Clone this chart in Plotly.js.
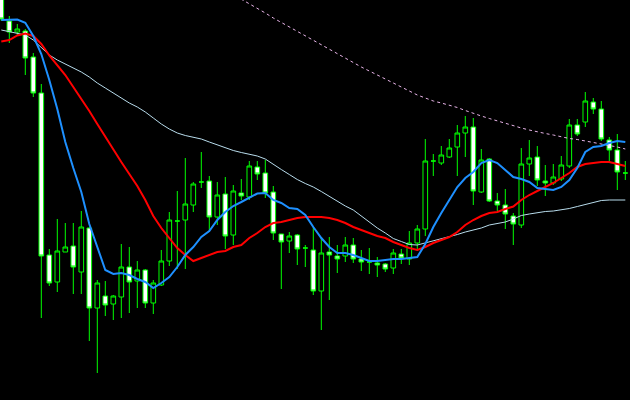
<!DOCTYPE html>
<html>
<head>
<meta charset="utf-8">
<script src="https://cdn.plot.ly/plotly-3.0.1.min.js"></script>
<style>html,body{margin:0;padding:0;background:#000;}#chart{width:630px;height:400px;}</style>
</head>
<body>
<div id="chart"></div>
<script>
// Bar index (time order)
var bars = [];
for (var i = 0; i < 79; i++) bars.push(i);

var openP = [1.3402,1.3379,1.3368,1.3369,1.3343,1.3307,1.3145,1.3118,1.3148,1.3154,
  1.3128,1.3172,1.3092,1.3104,1.3096,1.3103,1.3133,1.3119,1.3130,1.3097,
  1.3115,1.3139,1.3179,1.3180,1.3195,1.3218,1.3219,1.3183,1.3206,1.3165,
  1.3207,1.3203,1.3233,1.3227,1.3208,1.3166,1.3159,1.3165,1.3152,1.3150,
  1.3109,1.3148,1.3144,1.3144,1.3155,1.3141,1.3138,1.3137,1.3136,1.3132,
  1.3146,1.3141,1.3157,1.3171,1.3239,1.3237,1.3243,1.3253,1.3267,1.3273,
  1.3208,1.3241,1.3199,1.3195,1.3184,1.3175,1.3236,1.3243,1.3219,1.3217,
  1.3221,1.3234,1.3275,1.3278,1.3298,1.3291,1.3260,1.3250,1.3227];
var highP = [1.3406,1.3384,1.3376,1.3371,1.3347,1.3316,1.3151,1.3181,1.3177,1.3177,
  1.3189,1.3173,1.3120,1.3119,1.3105,1.3156,1.3153,1.3139,1.3131,1.3120,
  1.3150,1.3188,1.3209,1.3242,1.3218,1.3248,1.3224,1.3218,1.3223,1.3215,
  1.3221,1.3239,1.3239,1.3240,1.3214,1.3166,1.3168,1.3166,1.3155,1.3173,
  1.3162,1.3163,1.3155,1.3163,1.3162,1.3150,1.3152,1.3143,1.3137,1.3151,
  1.3151,1.3169,1.3175,1.3261,1.3246,1.3254,1.3261,1.3275,1.3284,1.3282,
  1.3251,1.3242,1.3207,1.3211,1.3187,1.3252,1.3260,1.3254,1.3235,1.3236,
  1.3244,1.3281,1.3281,1.3308,1.3302,1.3299,1.3263,1.3266,1.3239];
var lowP = [1.3379,1.3357,1.3365,1.3325,1.3303,1.3082,1.3114,1.3108,1.3148,1.3106,
  1.3106,1.3059,1.3027,1.3084,1.3080,1.3082,1.3087,1.3092,1.3092,1.3086,
  1.3114,1.3134,1.3131,1.3131,1.3188,1.3212,1.3169,1.3175,1.3151,1.3155,
  1.3200,1.3200,1.3220,1.3202,1.3160,1.3111,1.3147,1.3135,1.3133,1.3105,
  1.3070,1.3100,1.3127,1.3138,1.3137,1.3129,1.3126,1.3123,1.3128,1.3126,
  1.3136,1.3135,1.3149,1.3164,1.3224,1.3235,1.3242,1.3224,1.3243,1.3195,
  1.3207,1.3198,1.3189,1.3171,1.3155,1.3172,1.3224,1.3214,1.3204,1.3215,
  1.3219,1.3232,1.3264,1.3273,1.3286,1.3259,1.3239,1.3210,1.3220];
var closeP = [1.3381,1.3368,1.3371,1.3342,1.3307,1.3144,1.3117,1.3149,1.3153,1.3133,
  1.3173,1.3092,1.3117,1.3095,1.3104,1.3133,1.3118,1.3130,1.3097,1.3117,
  1.3139,1.3180,1.3179,1.3196,1.3216,1.3218,1.3183,1.3205,1.3164,1.3209,
  1.3204,1.3234,1.3226,1.3207,1.3167,1.3158,1.3164,1.3151,1.3152,1.3109,
  1.3147,1.3145,1.3141,1.3155,1.3141,1.3138,1.3138,1.3135,1.3131,1.3147,
  1.3142,1.3157,1.3171,1.3239,1.3239,1.3245,1.3252,1.3267,1.3273,1.3209,
  1.3240,1.3199,1.3195,1.3186,1.3176,1.3236,1.3242,1.3220,1.3217,1.3223,
  1.3235,1.3275,1.3266,1.3299,1.3291,1.3261,1.3250,1.3228,1.3227];

// Moving averages
var maFast = [1.3380,1.3380,1.33805,1.33773,1.3364,1.3346,1.3320,1.3291,1.3258,1.3232,
  1.3208,1.3176,1.3152,1.3130,1.3126,1.3127,1.3125,1.3121,1.3118,1.3112,
  1.3117,1.3123,1.3133,1.3145,1.3153,1.3163,1.3169,1.3180,1.3188,1.3194,
  1.3198,1.3202,1.32065,1.3207,1.3200,1.3197,1.3192,1.3191,1.3185,1.3173,
  1.3162,1.3153,1.3147,1.3147,1.3145,1.3142,1.3139,1.3139,1.3140,1.3141,
  1.3141,1.3142,1.3143,1.3156,1.3173,1.3187,1.3200,1.3213,1.3222,1.3228,
  1.3237,1.3240,1.3237,1.3230,1.3223,1.3221,1.3218,1.3212,1.3211,1.3210,
  1.3213,1.3220,1.3232,1.3248,1.3253,1.3254,1.3257,1.3259,1.3258];
var maMid = [1.33585,1.3360,1.33645,1.33665,1.3364,1.3356,1.33445,1.3335,1.3325,1.3313,
  1.33015,1.3289,1.3276,1.3263,1.3250,1.3238,1.3226,1.3214,1.3200,1.3184,
  1.3172,1.3162,1.3152,1.3145,1.3139,1.3142,1.3145,1.3148,1.3149,1.3153,
  1.3155,1.3162,1.3167,1.3173,1.3177,1.3178,1.3180,1.3182,1.3183,1.3183,
  1.3183,1.3182,1.3180,1.3177,1.3173,1.3170,1.3167,1.3164,1.3162,1.3158,
  1.3155,1.3152,1.3150,1.3153,1.3157,1.3160,1.3163,1.3168,1.3175,1.3180,
  1.3184,1.3187,1.3188,1.3191,1.31935,1.3200,1.3205,1.3209,1.3213,1.3217,
  1.3222,1.3227,1.3233,1.3236,1.3237,1.3238,1.3238,1.3236,1.3234];
var maSlow = [1.3370,1.33685,1.3367,1.3365,1.3360,1.3352,1.3345,1.3340,1.3336,1.3332,
  1.3328,1.3323,1.3317,1.3312,1.3307,1.3302,1.3297,1.3293,1.3288,1.3282,
  1.3276,1.3271,1.3267,1.32645,1.3263,1.3261,1.3258,1.3255,1.3252,1.32495,
  1.32475,1.3246,1.3244,1.3241,1.32355,1.32305,1.32255,1.32205,1.32165,1.3213,
  1.32085,1.32035,1.31985,1.3194,1.3190,1.3184,1.31775,1.3172,1.3167,1.31615,
  1.31585,1.31555,1.3155,1.3157,1.3159,1.3161,1.3163,1.31655,1.3168,1.3170,
  1.3172,1.3175,1.31765,1.3178,1.3181,1.31845,1.3186,1.31875,1.31885,1.3189,
  1.3190,1.31915,1.31935,1.31955,1.31975,1.31995,1.3200,1.3200,1.3200];
var maLong = [null,null,null,null,null,null,null,null,null,null,
  null,null,null,null,null,null,null,null,null,null,
  null,null,null,null,null,null,null,null,1.3410,1.34055,
  1.3401,1.33965,1.33915,1.3387,1.3382,1.33775,1.3373,1.33685,1.3364,1.33595,
  1.3355,1.33505,1.3346,1.3342,1.33375,1.3333,1.3329,1.3325,1.3321,1.33165,
  1.33125,1.33085,1.3305,1.3302,1.3299,1.3297,1.3295,1.32925,1.32895,1.32865,
  1.3284,1.32815,1.3279,1.32765,1.32745,1.3272,1.3270,1.3268,1.32665,1.3265,
  1.3263,1.32615,1.32605,1.3259,1.32575,1.32565,1.3255,1.3253,1.3251];

var traces = [
  {
    type: 'candlestick', x: bars, open: openP, high: highP, low: lowP, close: closeP,
    increasing: {line: {color: '#00ff00', width: 1}, fillcolor: '#000000'},
    decreasing: {line: {color: '#00ff00', width: 1}, fillcolor: '#ffffff'},
    hoverinfo: 'skip', showlegend: false
  },
  {type: 'scatter', mode: 'lines', x: bars, y: maLong, line: {color: '#e8b4e8', width: 1, dash: '3px,3px'}, hoverinfo: 'skip', showlegend: false},
  {type: 'scatter', mode: 'lines', x: bars, y: maSlow, line: {color: '#b8dcec', width: 1}, hoverinfo: 'skip', showlegend: false},
  {type: 'scatter', mode: 'lines', x: bars, y: maMid, line: {color: '#ff0000', width: 2}, hoverinfo: 'skip', showlegend: false},
  {type: 'scatter', mode: 'lines', x: bars, y: maFast, line: {color: '#1e90ff', width: 2}, hoverinfo: 'skip', showlegend: false}
];

var layout = {
  width: 630, height: 400,
  margin: {l: 0, r: 0, t: 0, b: 0, pad: 0},
  paper_bgcolor: '#000000', plot_bgcolor: '#000000',
  showlegend: false,
  boxgap: 0.24, boxgroupgap: 0.24,
  xaxis: {range: [-0.1625, 78.5875], visible: false, rangeslider: {visible: false}, fixedrange: true},
  yaxis: {range: [1.3000, 1.3400], visible: false, fixedrange: true}
};

Plotly.newPlot('chart', traces, layout, {displayModeBar: false, staticPlot: true});
</script>
</body>
</html>
